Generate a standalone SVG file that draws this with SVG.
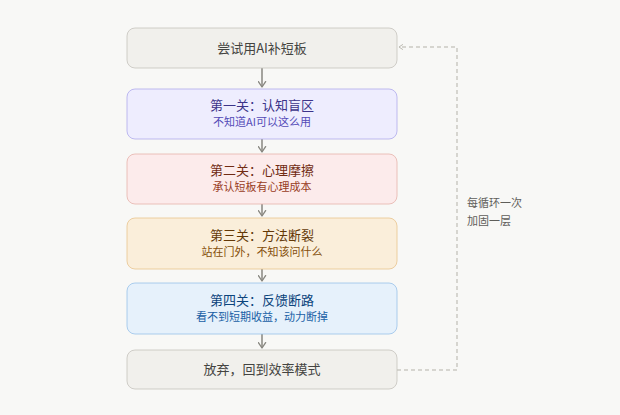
<svg xmlns="http://www.w3.org/2000/svg" width="620" height="415" viewBox="0 0 620 415">
<style>
text{font-family:"Noto Sans CJK SC","Noto Sans",sans-serif;text-anchor:middle}
.t{font-size:13px}
.s{font-size:11px}
.n{stroke-width:0.8}
.gray rect{fill:#f1f0ec;stroke:#c5c3bc}
.gray text{fill:#444441}
.pur rect{fill:#eeedfe;stroke:#afa9ec}
.pur .t{fill:#3c3489}
.pur .s{fill:#534ab7}
.red rect{fill:#fcebeb;stroke:#e6b3ab}
.red .t{fill:#712b13}
.red .s{fill:#993c1d}
.amb rect{fill:#faeeda;stroke:#e8c48e}
.amb .t{fill:#633806}
.amb .s{fill:#854f0b}
.blu rect{fill:#e6f1fb;stroke:#98c2ea}
.blu .t{fill:#0c447c}
.blu .s{fill:#185fa5}
.c{fill:none;stroke:#888780;stroke-width:1.5}
.d{fill:none;stroke:#b4b2a9;stroke-width:1;stroke-dasharray:4 3}
</style>
<defs>
<marker id="a" viewBox="0 0 10 10" refX="8" refY="5" markerWidth="6" markerHeight="6" orient="auto">
<path d="M2 1L8 5L2 9" fill="none" stroke="context-stroke" stroke-width="1.5" stroke-linecap="round" stroke-linejoin="round"/>
</marker>
</defs>
<rect width="620" height="415" fill="#f8f8f6"/>
<g id="connectors">
<line class="c" x1="262" y1="68" x2="262" y2="87" marker-end="url(#a)"/>
<line class="c" x1="262" y1="139" x2="262" y2="152" marker-end="url(#a)"/>
<line class="c" x1="262" y1="204" x2="262" y2="216" marker-end="url(#a)"/>
<line class="c" x1="262" y1="269" x2="262" y2="281" marker-end="url(#a)"/>
<line class="c" x1="262" y1="334" x2="262" y2="348" marker-end="url(#a)"/>
<path class="d" d="M397 370H457V47H399" marker-end="url(#a)"/>
<text class="s" x="467" y="207" style="text-anchor:start;fill:#5f5e5a">每循环一次</text>
<text class="s" x="467" y="225" style="text-anchor:start;fill:#5f5e5a">加固一层</text>
</g>
<g id="start" class="gray">
<rect class="n" x="127" y="28" width="270" height="40" rx="8"/>
<text class="t" x="262" y="53">尝试用AI补短板</text>
</g>
<g id="gate1" class="pur">
<rect class="n" x="127" y="89" width="270" height="50" rx="8"/>
<text class="t" x="262" y="110">第一关：认知盲区</text>
<text class="s" x="262" y="126">不知道AI可以这么用</text>
</g>
<g id="gate2" class="red">
<rect class="n" x="127" y="154" width="270" height="50" rx="8"/>
<text class="t" x="262" y="175">第二关：心理摩擦</text>
<text class="s" x="262" y="191">承认短板有心理成本</text>
</g>
<g id="gate3" class="amb">
<rect class="n" x="127" y="218" width="270" height="51" rx="8"/>
<text class="t" x="262" y="240">第三关：方法断裂</text>
<text class="s" x="262" y="256">站在门外，不知该问什么</text>
</g>
<g id="gate4" class="blu">
<rect class="n" x="127" y="283" width="270" height="51" rx="8"/>
<text class="t" x="262" y="305">第四关：反馈断路</text>
<text class="s" x="262" y="321">看不到短期收益，动力断掉</text>
</g>
<g id="end" class="gray">
<rect class="n" x="127" y="350" width="270" height="39" rx="8"/>
<text class="t" x="262" y="374">放弃，回到效率模式</text>
</g>
</svg>
